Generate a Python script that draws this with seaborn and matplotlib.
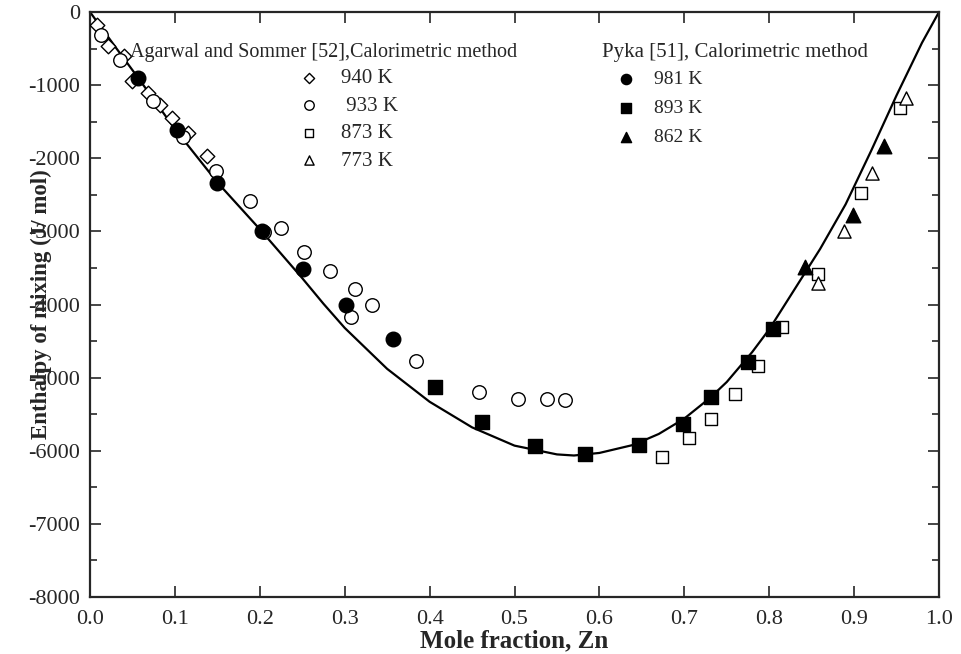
import matplotlib
matplotlib.use("Agg")
import matplotlib.pyplot as plt
import seaborn as sns
import numpy as np

# Fitted (calculated) curve
curve_x = [0.00, 0.03, 0.057, 0.10, 0.15, 0.20, 0.25, 0.275, 0.30, 0.35, 0.40, 0.45,
           0.50, 0.55, 0.57, 0.60, 0.64, 0.67, 0.70, 0.73, 0.75, 0.78, 0.80, 0.83,
           0.86, 0.89, 0.92, 0.95, 0.98, 1.00]
curve_y = [0, -480, -905, -1600, -2330, -2970, -3640, -3990, -4320, -4880, -5330, -5680,
           -5930, -6050, -6065, -6030, -5920, -5770, -5560, -5280, -5060, -4650, -4340, -3790,
           -3240, -2630, -1900, -1140, -420, 0]

# Agarwal and Sommer [52]
k940_x = [0.008, 0.021, 0.040, 0.050, 0.068, 0.082, 0.097, 0.116, 0.138]
k940_y = [-180, -470, -600, -950, -1110, -1270, -1450, -1650, -1970]
k933_x = [0.013, 0.035, 0.074, 0.110, 0.148, 0.188, 0.205, 0.225, 0.252, 0.283, 0.312,
          0.332, 0.308, 0.384, 0.458, 0.504, 0.538, 0.559]
k933_y = [-310, -650, -1220, -1710, -2180, -2590, -3010, -2950, -3280, -3540, -3790,
          -4010, -4170, -4770, -5190, -5290, -5290, -5300]
k873_x = [0.674, 0.705, 0.732, 0.760, 0.787, 0.815, 0.857, 0.908, 0.954]
k873_y = [-6080, -5830, -5570, -5230, -4840, -4310, -3580, -2480, -1310]
k773_x = [0.857, 0.888, 0.921, 0.961]
k773_y = [-3710, -3000, -2200, -1170]

# Pyka [51]
k981_x = [0.057, 0.102, 0.149, 0.203, 0.251, 0.302, 0.357]
k981_y = [-900, -1610, -2340, -2990, -3510, -4010, -4470]
k893_x = [0.406, 0.462, 0.524, 0.583, 0.647, 0.699, 0.731, 0.775, 0.805]
k893_y = [-5130, -5600, -5930, -6050, -5920, -5630, -5260, -4790, -4340]
k862_x = [0.842, 0.899, 0.935]
k862_y = [-3490, -2780, -1830]

sns.set_style("ticks")
plt.rcParams["font.family"] = ["Liberation Serif", "DejaVu Serif"]
plt.rcParams["axes.unicode_minus"] = False

fig = plt.figure(figsize=(9.61, 6.54), dpi=100)
ax = fig.add_axes([90 / 961, 1 - 597 / 654, 849 / 961, 585 / 654])

sns.lineplot(x=curve_x, y=curve_y, sort=False, estimator=None, color="black",
             linewidth=1.6, ax=ax, zorder=2)

open_kw = dict(facecolor="white", edgecolor="black", linewidth=1.0, zorder=3)
h940 = ax.scatter(k940_x, k940_y, marker="D", s=55, label="940 K", **open_kw)
h933 = ax.scatter(k933_x, k933_y, marker="o", s=95, label=" 933 K", **open_kw)
h873 = ax.scatter(k873_x, k873_y, marker="s", s=75, label="873 K", **open_kw)
h773 = ax.scatter(k773_x, k773_y, marker="^", s=90, label="773 K", **open_kw)

fill_kw = dict(color="black", zorder=4)
h981 = ax.scatter(k981_x, k981_y, marker="o", s=110, label="981 K", **fill_kw)
h893 = ax.scatter(k893_x, k893_y, marker="s", s=90, label="893 K", **fill_kw)
h862 = ax.scatter(k862_x, k862_y, marker="^", s=110, label="862 K", **fill_kw)

ax.set_xlim(0, 1.0)
ax.set_ylim(-8000, 0)
ax.set_xticks(np.arange(0, 1.01, 0.1))
ax.set_xticklabels([f"{v:.1f}" for v in np.arange(0, 1.01, 0.1)])
ax.set_yticks(np.arange(-8000, 1, 1000))
ax.set_yticks(np.arange(-8000, 1, 500), minor=True)
ax.tick_params(which="both", direction="in", top=True, right=True, width=1.2)
ax.tick_params(which="major", length=8, labelsize=16)
ax.tick_params(which="minor", length=5)
ax.tick_params(axis="x", pad=9)
ax.tick_params(axis="y", pad=7)
for sp in ax.spines.values():
    sp.set_linewidth(1.6)
    sp.set_visible(True)

ax.set_xlabel("Mole fraction, Zn", fontsize=18, fontweight="bold")
ax.set_ylabel("Enthalpy of mixing (J/ mol)", fontsize=16.5, fontweight="bold")
ax.xaxis.set_label_coords(0.5, -0.056)
ax.yaxis.set_label_coords(-0.045, 0.5)

# Legend headers
ax.text(0.047, 0.9316, "Agarwal and Sommer [52],Calorimetric method", fontsize=14.5,
        va="center", ha="left", transform=ax.transAxes)
ax.text(0.603, 0.9316, "Pyka [51], Calorimetric method", fontsize=15,
        va="center", ha="left", transform=ax.transAxes)

leg1 = ax.legend(handles=[h940, h933, h873, h773], loc="center left",
                 bbox_to_anchor=(0.2465, 0.816), frameon=False, fontsize=15,
                 borderpad=0, borderaxespad=0, handlelength=0.95, handletextpad=1.05,
                 labelspacing=0.38, markerscale=0.7)
ax.add_artist(leg1)
ax.legend(handles=[h981, h893, h862], loc="center left",
          bbox_to_anchor=(0.6196, 0.835), frameon=False, fontsize=14,
          borderpad=0, borderaxespad=0, handlelength=1.0, handletextpad=0.95,
          labelspacing=0.58, markerscale=0.7)

fig.savefig("out.png", dpi=100)
